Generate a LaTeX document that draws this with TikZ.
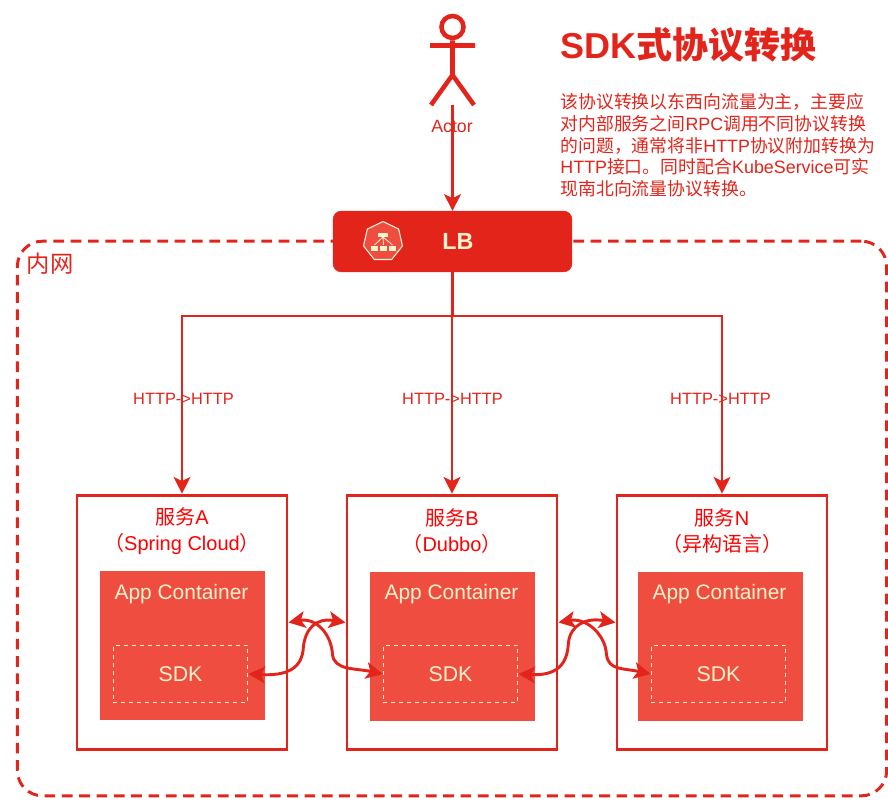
\documentclass[tikz,border=0pt]{standalone}
\usepackage{fontspec}
\setmainfont{Liberation Sans}
\newfontfamily\cjk{Noto Sans CJK SC}
\newcommand{\cn}[1]{{\cjk #1}}
\usetikzlibrary{arrows.meta,shapes.geometric}
\definecolor{lbred}{HTML}{E3241B}
\definecolor{appred}{HTML}{EE4D3F}
\definecolor{cream}{HTML}{FFF2CC}
\begin{document}
\begin{tikzpicture}[x=0.75pt, y=-0.75pt, line width=2.2pt, draw=lbred, text=lbred,
	tip/.style={-{Stealth[length=12.5pt,width=12.5pt,inset=3pt]}},
	link/.style={{Stealth[length=12.5pt,width=12.5pt,inset=3pt]}-{Stealth[length=12.5pt,width=12.5pt,inset=3pt]}},
	svcbox/.style={draw, fill=white, minimum width=157.5pt, minimum height=191pt},
	appbox/.style={fill=appred, minimum width=124pt, minimum height=112pt},
	sdkbox/.style={draw=cream, dashed, line width=0.8pt, minimum width=101pt, minimum height=43pt, text=cream, font=\fontsize{16}{16}\selectfont},
	flow/.style={font=\fontsize{12.3}{12.3}\selectfont},
	intro/.style={anchor=west, inner sep=0pt, font=\fontsize{13.4}{13.4}\selectfont}]
	\useasboundingbox (0,0) rectangle (888,812);

	\node[draw, dash pattern=on 8pt off 5pt, rounded corners=19pt, minimum width=652pt, minimum height=416pt] (intranet) at (452,518.5) {};
	\node[inner sep=0pt, font=\fontsize{17.5}{17.5}\selectfont] (intranetname) at (50,264) {\cn{内网}};

	\node[fill=lbred, draw=lbred, line width=0.4pt, rounded corners=6pt, minimum width=179pt, minimum height=45.5pt] (lb) at (452.5,241.5) {};
	\node[inner sep=0pt, text=cream, font=\fontsize{17.5}{17.5}\selectfont\bfseries] (lbname) at (458,241) {LB};
	\node[draw=cream!80!white, fill=appred, line width=0.8pt, regular polygon, regular polygon sides=7, minimum size=30pt, inner sep=0pt] (lbicon) at (383,241.5) {};
	\fill[cream] (378,233) rectangle (388,237);
	\foreach \x in {371,380,389}
		\fill[cream] (\x,246) rectangle ++(7,5);
	\draw[cream, line width=0.6pt] (383,237) -- (374.5,245) (383,237) -- (383.5,245) (383,237) -- (392.5,245);

	% actor
	\node[draw, circle, line width=3.4pt, minimum size=16.5pt, inner sep=0pt] (head) at (452.5,27) {};
	\coordinate (hip) at (452.5,75);
	\coordinate (footL) at (431,105);
	\coordinate (footR) at (474,105);
	\coordinate (armL) at (430,45.5);
	\coordinate (armR) at (475,45.5);
	\coordinate (foot) at (452.5,105);
	\draw[line width=3.4pt] (head) -- (hip) (armL) -- (armR) (footL) -- (hip) -- (footR);
	\node[inner sep=0pt, font=\fontsize{13.3}{13.3}\selectfont] (actor) at (452,126) {Actor};
	\draw[tip] (foot) -- (lb.north);

	\node[anchor=west, inner sep=0pt, font=\fontsize{27}{27}\selectfont\bfseries] (title) at (559,45) {SDK\cn{式协议转换}};
	\node[intro] (line1) at (559,102) {\cn{该协议转换以东西向流量为主，主要应}};
	\node[intro] (line2) at (559,124) {\cn{对内部服务之间}RPC\cn{调用不同协议转换}};
	\node[intro] (line3) at (559,146) {\cn{的问题，通常将非}HTTP\cn{协议附加转换为}};
	\node[intro] (line4) at (559,167) {HTTP\cn{接口。同时配合}KubeService\cn{可实}};
	\node[intro] (line5) at (559,189) {\cn{现南北向流量协议转换。}};

	\coordinate (bus) at (452.5,316);
	\foreach \id/\x/\hx/\ax/\sx/\ay/\title/\sub in {A/182/183.5/182.5/180.5/645.5/\cn{服务}A/\cn{（}Spring Cloud\cn{）},
		B/452/452.5/452.5/450.5/646.5/\cn{服务}B/\cn{（}Dubbo\cn{）},
		N/722/720.5/720.5/718.5/646.5/\cn{服务}N/\cn{（异构语言）}}{
		\node[svcbox] (svc\id) at (\x,622.5) {};
		\node[align=center, inner sep=0pt, text=red, font=\fontsize{15}{19.5}\selectfont] (name\id) at (\x,531.5) {\title\\\sub};
		\node[appbox] (app\id) at (\ax,\ay) {};
		\node[inner sep=0pt, text=cream, font=\fontsize{15.7}{15.7}\selectfont] (apptext\id) at (\ax-1,594) {App Container};
		\node[sdkbox] (sdk\id) at (\sx,674) {SDK};
		\draw[tip] (lb.south) -- (bus) -| (svc\id.north);
		\node[flow, inner sep=0pt] (http\id) at (\hx,399) {HTTP->HTTP};
	}

	\foreach \l/\r/\down/\up/\rise in {A/B/44/55/-27,B/N/48/50/-31}{
		\draw[link] (svc\l.east) .. controls +(28,-5) and +(-1,-20) .. ++(\down,32) .. controls +(2,16) and +(-28,-6) .. (sdk\r.west);
		\draw[link] (sdk\l.east) .. controls +(38,2) and +(-1,22) .. ++(\up,\rise) .. controls +(2,-18) and +(-30,-5) .. (svc\r.west);
	}
\end{tikzpicture}
\end{document}
